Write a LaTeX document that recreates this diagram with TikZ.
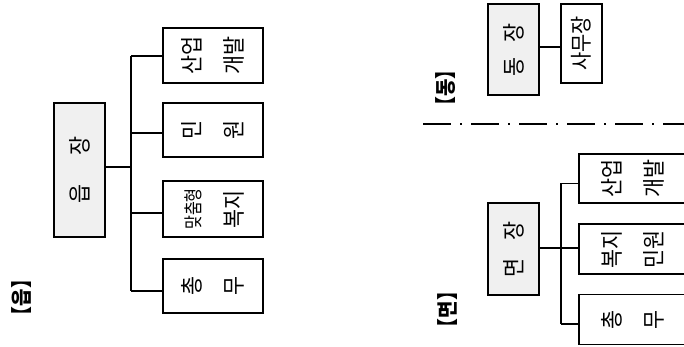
\documentclass[tikz,border=0pt]{standalone}
\usepackage{graphicx}
\usepackage{fontspec}
\setmainfont[FakeStretch=0.9]{Noto Sans CJK KR}
\newcommand{\rtxt}[1]{\rotatebox{90}{\begin{tabular}{@{}c@{}}#1\end{tabular}}}
\begin{document}
\begin{tikzpicture}[x=1pt,y=-1pt,
  boxa/.style={draw, line width=1.3pt, inner sep=0pt, font=\fontsize{23}{42}\selectfont},
  headbox/.style={boxa, fill=black!6},
  conn/.style={line width=1.3pt},
  tag/.style={inner sep=0pt, font=\bfseries\fontsize{21}{21}\selectfont},
  sep/.style={line width=2pt, dash pattern=on 28pt off 9pt on 2pt off 9pt}]
\useasboundingbox (0,0) rectangle (684,347);
% ---- 읍 ----
\node[headbox, minimum width=51pt, minimum height=134pt] (eup) at (79.5,170) {\rotatebox{90}{읍\hspace{29pt}장}};
\node[boxa, minimum width=100pt, minimum height=55pt] (e1) at (213,55.5) {\rtxt{산업\\개발}};
\node[boxa, minimum width=100pt, minimum height=54pt] (e2) at (213,130) {\rtxt{민\\원}};
\node[boxa, minimum width=100pt, minimum height=56pt] (e3) at (213,209) {\rtxt{\scalebox{0.88}[1]{\fontsize{19}{19}\selectfont 맞춤형}\\복지}};
\node[boxa, minimum width=100pt, minimum height=54pt] (e4) at (213,286) {\rtxt{총\\무}};
\coordinate (ebus) at (131,167);
\draw[conn] (eup.east |- ebus) -- (ebus);
\draw[conn] ([yshift=-0.5pt]e1.west -| ebus) -- ([yshift=-0.5pt]e1.west);
\draw[conn] ([yshift=-3pt]e2.west -| ebus) -- ([yshift=-3pt]e2.west);
\draw[conn] ([yshift=-4pt]e3.west -| ebus) -- ([yshift=-4pt]e3.west);
\draw[conn] ([yshift=-5pt]e4.west -| ebus) -- ([yshift=-5pt]e4.west);
\draw[conn] ([yshift=-0.5pt]e1.west -| ebus) -- ([yshift=-5pt]e4.west -| ebus);
\node[tag] (leup) at (21.5,297.5) {\rotatebox{90}{【읍】}};
% ---- 동 ----
\node[headbox, minimum width=51pt, minimum height=91pt] (dong) at (513.5,49.5) {\rotatebox{90}{동\hspace{15pt}장}};
\node[boxa, minimum width=41pt, minimum height=79pt] (samu) at (581.5,43.5) {\rotatebox{90}{\fontsize{22}{22}\selectfont 사무장}};
\coordinate (dc) at (550,47);
\draw[conn] (dc -| dong.east) -- (dc -| samu.west);
\node[tag] (ldong) at (446,88) {\rotatebox{90}{【동】}};
% ---- separator ----
\coordinate (s1) at (423,124);
\coordinate (s2) at (686,124);
\draw[sep] (s1) -- (s2);
% ---- 면 ----
\node[headbox, minimum width=51pt, minimum height=92pt] (myeon) at (513.5,249) {\rotatebox{90}{면\hspace{18pt}장}};
\node[boxa, minimum width=108pt, minimum height=49pt] (m1) at (633,178.5) {\rtxt{산업\\개발}};
\node[boxa, minimum width=108pt, minimum height=50pt] (m2) at (633,249) {\rtxt{복지\\민원}};
\node[boxa, minimum width=108pt, minimum height=50pt] (m3) at (633,319.5) {\rtxt{총\\무}};
\coordinate (mbus) at (561,248);
\draw[conn] (myeon.east |- mbus) -- (m2.west |- mbus);
\draw[conn] ([yshift=-5pt]m1.west -| mbus) -- ([yshift=-5pt]m1.west);
\draw[conn] ([yshift=-4.5pt]m3.west -| mbus) -- ([yshift=-4.5pt]m3.west);
\draw[conn] ([yshift=-5pt]m1.west -| mbus) -- ([yshift=-4.5pt]m3.west -| mbus);
\node[tag] (lmyeon) at (448,309.5) {\rotatebox{90}{【면】}};
\end{tikzpicture}
\end{document}
